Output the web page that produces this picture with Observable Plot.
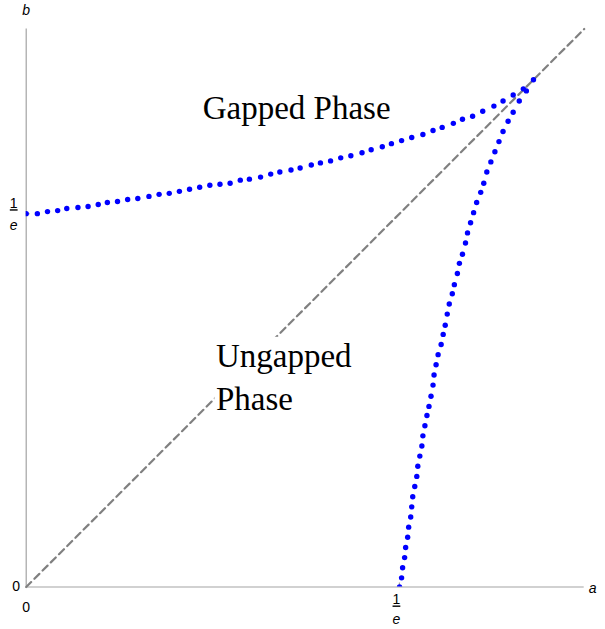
<!DOCTYPE html>
<html>
<head>
<meta charset="utf-8">
<script src="https://cdn.jsdelivr.net/npm/d3@7"></script>
<script src="https://cdn.jsdelivr.net/npm/@observablehq/plot@0.6"></script>
<style>
  body { margin: 0; background: #fff; }
  .frac-num text { text-decoration: underline; }
</style>
</head>
<body>
<div id="chart"></div>
<script>
// Phase boundary in the (a, b) plane: upper branch starts at (0, 1/e),
// lower branch starts at (1/e, 0); both meet near (1/2, 1/2).
const upperA = [0, 0.011, 0.021, 0.031, 0.040, 0.051, 0.061, 0.071, 0.080, 0.090,
  0.100, 0.110, 0.121, 0.131, 0.141, 0.151, 0.161, 0.171, 0.181, 0.191,
  0.201, 0.211, 0.220, 0.231, 0.241, 0.250, 0.261, 0.270, 0.281, 0.290,
  0.300, 0.310, 0.320, 0.331, 0.340, 0.351, 0.360, 0.370, 0.380, 0.391,
  0.401, 0.410, 0.421, 0.430, 0.440, 0.450, 0.461, 0.470, 0.480, 0.490, 0.500];
const upperB = [0.368, 0.368, 0.370, 0.371, 0.373, 0.374, 0.375, 0.377, 0.379, 0.380,
  0.382, 0.383, 0.385, 0.387, 0.388, 0.390, 0.392, 0.394, 0.396, 0.397,
  0.398, 0.401, 0.402, 0.404, 0.407, 0.409, 0.411, 0.413, 0.416, 0.418,
  0.420, 0.423, 0.425, 0.428, 0.431, 0.434, 0.437, 0.440, 0.443, 0.446,
  0.450, 0.453, 0.457, 0.461, 0.464, 0.469, 0.474, 0.479, 0.485, 0.491, 0.500];

const lowerA = [0.493, 0.486, 0.480, 0.475, 0.470, 0.466, 0.462, 0.458, 0.454, 0.451,
  0.448, 0.444, 0.441, 0.438, 0.435, 0.433, 0.430, 0.427, 0.425, 0.422,
  0.420, 0.417, 0.415, 0.413, 0.411, 0.409, 0.406, 0.404, 0.402, 0.401,
  0.399, 0.397, 0.395, 0.393, 0.391, 0.390, 0.388, 0.386, 0.385, 0.383,
  0.381, 0.380, 0.379, 0.377, 0.376, 0.374, 0.373, 0.371, 0.370, 0.368];
const lowerB = [0.489, 0.479, 0.468, 0.459, 0.449, 0.439, 0.429, 0.419, 0.409, 0.398,
  0.389, 0.379, 0.369, 0.359, 0.349, 0.339, 0.328, 0.319, 0.309, 0.298,
  0.289, 0.279, 0.269, 0.258, 0.249, 0.239, 0.229, 0.219, 0.209, 0.199,
  0.188, 0.178, 0.169, 0.159, 0.149, 0.139, 0.129, 0.119, 0.109, 0.099,
  0.089, 0.079, 0.069, 0.059, 0.049, 0.039, 0.029, 0.019, 0.009, 0];

// Reference diagonal b = a
const diagA = [0, 0.55];
const diagB = [0, 0.55];

// Axis extent and ticks
const axisMax = 0.55;
const tickValues = [0, 1 / Math.E];
const tickNumerators = ["0", "1"];
const tickDenominators = ["", "e"];

// Region labels
const phaseLabels = ["Gapped Phase", "Ungapped\nPhase"];
const phaseLabelA = [0.174, 0.187];
const phaseLabelB = [0.475, 0.209];

const zip = (as, bs) => as.map((a, i) => ({a, b: bs[i]}));
const upper = zip(upperA, upperB);
const lower = zip(lowerA, lowerB);
const diag = zip(diagA, diagB);
const labels = phaseLabels.map((t, i) => ({t, a: phaseLabelA[i], b: phaseLabelB[i]}));
const ticks = tickValues.map((v, i) => ({v, num: tickNumerators[i], den: tickDenominators[i]}));
const plainTicks = ticks.filter(d => d.den === "");
const fracTicks = ticks.filter(d => d.den !== "");

const axisColor = "#a3a3a3";
const blue = "#0000ff";

const chart = Plot.plot({
  width: 605,
  height: 629,
  marginLeft: 25.7,
  marginRight: 21.3,
  marginTop: 28.5,
  marginBottom: 42.5,
  x: {domain: [0, axisMax], axis: null},
  y: {domain: [0, axisMax], axis: null},
  style: {fontFamily: "'Liberation Sans', Arial, sans-serif", fontSize: "14px", background: "#fff", overflow: "visible"},
  marks: [
    // axes through the origin
    Plot.ruleX([0], {stroke: axisColor, strokeWidth: 1.2}),
    Plot.ruleY([0], {stroke: axisColor, strokeWidth: 1.2}),
    // small inward ticks at 1/e
    Plot.ruleX(fracTicks, {x: "v", y1: 0, y2: 0, insetBottom: 4, stroke: axisColor, strokeWidth: 1.2}),
    Plot.ruleY(fracTicks, {y: "v", x1: 0, x2: 0, insetLeft: 4, stroke: axisColor, strokeWidth: 1.2}),

    // dashed diagonal
    Plot.line(diag, {x: "a", y: "b", stroke: "#808080", strokeWidth: 2.2, strokeDasharray: "7,4.6"}),

    // region labels (white box drawn behind them after rendering)
    Plot.text(labels, {x: "a", y: "b", text: "t", textAnchor: "start", lineAnchor: "middle",
      lineHeight: 1.29, fontFamily: "'Liberation Serif', 'Times New Roman', serif", fontSize: 33,
      fill: "#000", className: "phase-label"}),

    // dotted boundary curves
    Plot.dot(upper, {x: "a", y: "b", r: 2.7, fill: blue, clip: true}),
    Plot.dot(lower, {x: "a", y: "b", r: 2.7, fill: blue, clip: true}),

    // tick labels: x axis
    Plot.text(plainTicks, {x: "v", y: 0, text: "num", dy: 21}),
    Plot.text(fracTicks, {x: "v", y: 0, text: "num", dx: -3, dy: 13, className: "frac-num"}),
    Plot.text(fracTicks, {x: "v", y: 0, text: "den", dx: -3, dy: 33, fontStyle: "italic"}),
    // tick labels: y axis
    Plot.text(plainTicks, {x: 0, y: "v", text: "num", dx: -10}),
    Plot.text(fracTicks, {x: 0, y: "v", text: "num", dx: -12.5, dy: -10, className: "frac-num"}),
    Plot.text(fracTicks, {x: 0, y: "v", text: "den", dx: -12.5, dy: 11.5, fontStyle: "italic"}),

    // axis names
    Plot.text(["a"], {x: axisMax, y: 0, text: d => d, textAnchor: "start", dx: 4.5, dy: 1.5, fontStyle: "italic"}),
    Plot.text(["b"], {x: 0, y: axisMax, text: d => d, dy: -18, fontStyle: "italic"})
  ]
});

document.getElementById("chart").append(chart);

// Opaque background boxes behind the region labels so the diagonal passes under them
chart.querySelectorAll(".phase-label text").forEach(t => {
  const bb = t.getBBox();
  const pad = 1.5;
  const r = document.createElementNS("http://www.w3.org/2000/svg", "rect");
  r.setAttribute("x", bb.x - pad);
  r.setAttribute("y", bb.y - pad);
  r.setAttribute("width", bb.width + 2 * pad);
  r.setAttribute("height", bb.height + 2 * pad);
  r.setAttribute("fill", "#fff");
  if (t.getAttribute("transform")) r.setAttribute("transform", t.getAttribute("transform"));
  t.parentNode.insertBefore(r, t);
});
</script>
</body>
</html>
